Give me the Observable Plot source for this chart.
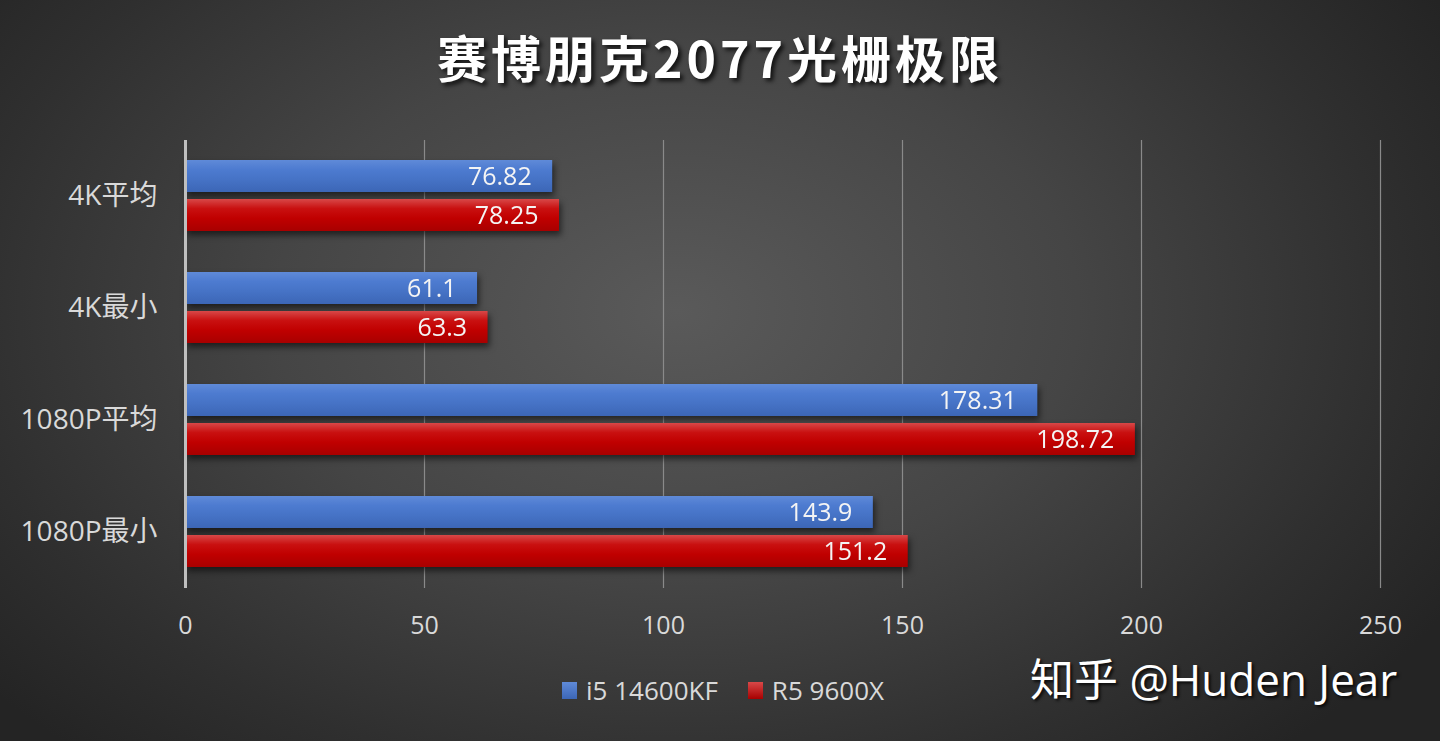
<!DOCTYPE html>
<html>
<head>
<meta charset="utf-8">
<script src="https://cdn.jsdelivr.net/npm/d3@7"></script>
<script src="https://cdn.jsdelivr.net/npm/@observablehq/plot@0.6"></script>
<style>
  html, body { margin: 0; padding: 0; }
  #frame {
    position: relative; width: 1440px; height: 741px; overflow: hidden;
    background: radial-gradient(ellipse 62% 80% at 47% 42%, #5a5a5a 0%, #454545 45%, #2f2f2f 80%, #242424 100%);
    font-family: "Open Sans", "Noto Sans CJK SC", sans-serif;
  }
  #title {
    position: absolute; left: 0; top: 20px; width: 1440px; text-align: center;
    font-family: "Noto Sans CJK SC", sans-serif; font-weight: 700; font-size: 50px;
    letter-spacing: 4px; color: #ffffff; text-shadow: 3px 3px 4px rgba(0,0,0,0.75);
  }
  #chart { position: absolute; left: 0; top: 125px; }
  #legend {
    position: absolute; top: 672px; left: 562px; display: flex; align-items: center;
    font-size: 26px; color: #d9d9d9;
  }
  #legend .sw { display: inline-block; width: 15px; height: 17px; margin-right: 9px; }
  #legend .item { display: flex; align-items: center; margin-right: 30px; }
  #mark {
    position: absolute; top: 645px; left: 1030px; font-size: 44px; color: #ffffff;
    text-shadow: 2px 2px 3px rgba(0,0,0,0.8);
    font-family: "Open Sans", "Noto Sans CJK SC", sans-serif;
  }
</style>
</head>
<body>
<div id="frame">
  <div id="title">赛博朋克2077光栅极限</div>
  <div id="chart"></div>
  <div id="legend"></div>
  <div id="mark">知乎 @Huden Jear</div>
</div>
<script>
const categories = ["4K平均", "4K最小", "1080P平均", "1080P最小"];
const seriesNames = ["i5 14600KF", "R5 9600X"];
const i5Values = [76.82, 61.1, 178.31, 143.9];
const r5Values = [78.25, 63.3, 198.72, 151.2];
const xTicks = [0, 50, 100, 150, 200, 250];
const fills = ["url(#gBlue)", "url(#gRed)"];

const rows = [];
categories.forEach((c, i) => {
  rows.push({category: c, series: seriesNames[0], value: i5Values[i]});
  rows.push({category: c, series: seriesNames[1], value: r5Values[i]});
});

const svg = Plot.plot({
  width: 1440,
  height: 530,
  marginTop: 15,
  marginBottom: 67,
  marginLeft: 185,
  marginRight: 60,
  style: {background: "transparent", color: "#d9d9d9", fontSize: "25px", fontFamily: "'Open Sans', 'Noto Sans CJK SC', sans-serif"},
  x: {domain: [0, 250], ticks: xTicks, tickSize: 0, tickPadding: 28, label: null, tickFormat: d => String(d)},
  y: {axis: null, domain: seriesNames, paddingInner: 0.175, paddingOuter: 0.49},
  fy: {domain: categories, padding: 0, label: null, tickSize: 0, tickPadding: 28},
  marks: [
    Plot.ruleX(xTicks.slice(1), {stroke: "#8a8a8a", strokeWidth: 1.2}),
    Plot.barX(rows, {filter: d => d.series === seriesNames[0], x: "value", y: "series", fy: "category", fill: fills[0]}),
    Plot.barX(rows, {filter: d => d.series === seriesNames[1], x: "value", y: "series", fy: "category", fill: fills[1]}),
    Plot.ruleX([0], {stroke: "#bfbfbf", strokeWidth: 3}),
    Plot.text(rows, {x: "value", y: "series", fy: "category", text: d => String(d.value), textAnchor: "end", dx: -21, fill: "#f4f4f4", fontSize: 25})
  ]
});

const ns = "http://www.w3.org/2000/svg";
const defs = document.createElementNS(ns, "defs");
function grad(id, stops) {
  const g = document.createElementNS(ns, "linearGradient");
  g.setAttribute("id", id);
  g.setAttribute("x1", "0"); g.setAttribute("y1", "0");
  g.setAttribute("x2", "0"); g.setAttribute("y2", "1");
  stops.forEach(([o, c]) => {
    const s = document.createElementNS(ns, "stop");
    s.setAttribute("offset", o); s.setAttribute("stop-color", c);
    g.appendChild(s);
  });
  defs.appendChild(g);
}
grad("gBlue", [["0", "#5f8ad8"], ["0.3", "#4d7bd0"], ["0.6", "#4673c6"], ["1", "#3c66b6"]]);
grad("gRed", [["0", "#d84848"], ["0.3", "#c91010"], ["0.6", "#c00000"], ["1", "#a80000"]]);
svg.insertBefore(defs, svg.firstChild);

svg.querySelectorAll('g[aria-label="bar"]').forEach(g => {
  g.style.filter = "drop-shadow(2px 4px 3px rgba(0,0,0,0.55))";
});
svg.querySelectorAll('g[aria-label="fy-axis tick label"]').forEach(g => {
  g.setAttribute("font-size", "28");
});

document.getElementById("chart").appendChild(svg);

const legend = document.getElementById("legend");
seriesNames.forEach((s, i) => {
  const item = document.createElement("div");
  item.className = "item";
  const sw = document.createElement("span");
  sw.className = "sw";
  sw.style.background = i === 0 ? "linear-gradient(#5f8ad8, #3c66b6)" : "linear-gradient(#d84848, #a80000)";
  const tx = document.createElement("span");
  tx.textContent = s;
  item.appendChild(sw); item.appendChild(tx);
  legend.appendChild(item);
});
</script>
</body>
</html>
